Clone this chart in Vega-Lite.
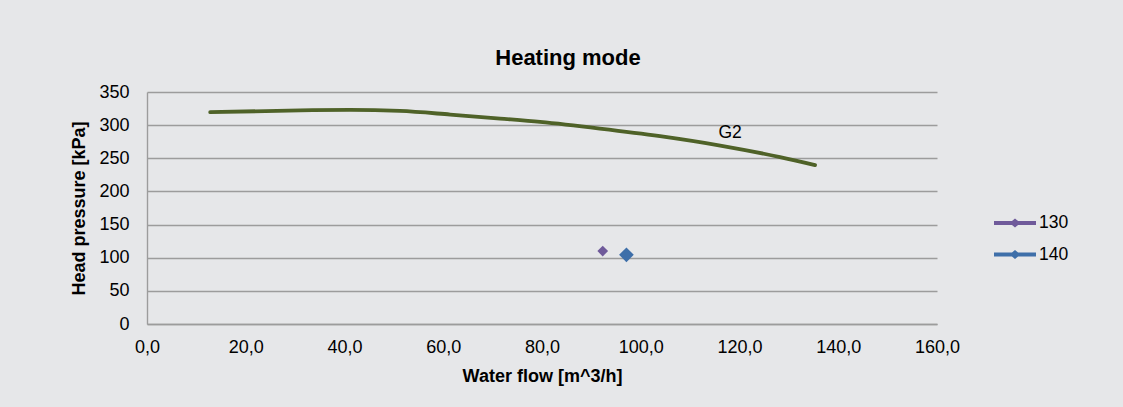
{
  "$schema": "https://vega.github.io/schema/vega-lite/v6.json",
  "width": 790,
  "height": 232,
  "autosize": {"type": "none"},
  "padding": {"left": 147, "top": 92, "right": 186, "bottom": 83},
  "background": "#e6e7e9",
  "title": {
    "text": "Heating mode",
    "font": "Liberation Sans",
    "fontSize": 22,
    "fontWeight": "bold",
    "color": "#000000",
    "anchor": "middle",
    "frame": "group",
    "dx": 26,
    "offset": 13
  },
  "datasets": {
    "curve": [
      {"flow": 12.8, "pressure": 319.5},
      {"flow": 31.0, "pressure": 322.4},
      {"flow": 41.1, "pressure": 323.0},
      {"flow": 51.2, "pressure": 321.4},
      {"flow": 61.4, "pressure": 316.0},
      {"flow": 71.5, "pressure": 309.9},
      {"flow": 79.6, "pressure": 304.8},
      {"flow": 91.7, "pressure": 294.9},
      {"flow": 103.9, "pressure": 283.4},
      {"flow": 116.1, "pressure": 269.2},
      {"flow": 128.2, "pressure": 251.8},
      {"flow": 135.3, "pressure": 239.8}
    ],
    "points": [
      {"series": "130", "flow": 92.3, "pressure": 110.0},
      {"series": "140", "flow": 97.1, "pressure": 104.4}
    ],
    "labels": [
      {"label": "G2", "flow": 118.1, "pressure": 280}
    ]
  },
  "encoding": {
    "x": {
      "field": "flow",
      "type": "quantitative",
      "scale": {"domain": [0, 160], "nice": false, "zero": false},
      "axis": {
        "title": "Water flow [m^3/h]",
        "values": [0, 20, 40, 60, 80, 100, 120, 140, 160],
        "labelExpr": "replace(format(datum.value, '.1f'), '.', ',')",
        "labelFlush": false,
        "labelPadding": 14,
        "titlePadding": 11,
        "grid": false
      }
    },
    "y": {
      "field": "pressure",
      "type": "quantitative",
      "scale": {"domain": [0, 350], "nice": false},
      "axis": {
        "title": "Head pressure [kPa]",
        "values": [0, 50, 100, 150, 200, 250, 300, 350],
        "format": "d",
        "labelFlush": false,
        "labelPadding": 18,
        "titlePadding": 10,
        "grid": true
      }
    }
  },
  "layer": [
    {
      "data": {"name": "curve"},
      "mark": {"type": "line", "color": "#4f6228", "strokeWidth": 3.8, "interpolate": "monotone", "strokeCap": "round"}
    },
    {
      "data": {"name": "labels"},
      "mark": {"type": "text", "font": "Liberation Sans", "fontSize": 17.5, "color": "#000000", "align": "center", "baseline": "alphabetic"},
      "encoding": {
        "text": {"field": "label"}
      }
    },
    {
      "data": {"name": "points"},
      "transform": [{"filter": "datum.series == '130'"}],
      "mark": {"type": "point", "shape": "diamond", "filled": true, "opacity": 1, "strokeWidth": 0, "size": 115},
      "encoding": {
        "color": {
          "field": "series",
          "type": "nominal",
          "scale": {"domain": ["130", "140"], "range": ["#6f5a9a", "#3e6fa9"]},
          "legend": {
            "title": null,
            "orient": "none",
            "legendX": 853,
            "legendY": 116,
            "padding": 0,
            "rowPadding": 7.5,
            "symbolType": "M-1.4,-0.13L1.4,-0.13L1.4,0.13L-1.4,0.13Z M-0.36,0L0,-0.3L0.36,0L0,0.3Z",
            "symbolSize": 900,
            "symbolStrokeWidth": 0,
            "symbolOpacity": 1,
            "labelOffset": 9,
            "labelFont": "Liberation Sans",
            "labelFontSize": 17.5,
            "labelColor": "#000000"
          }
        }
      }
    },
    {
      "data": {"name": "points"},
      "transform": [{"filter": "datum.series == '140'"}],
      "mark": {"type": "point", "shape": "diamond", "filled": true, "opacity": 1, "strokeWidth": 0, "size": 215},
      "encoding": {
        "color": {
          "field": "series",
          "type": "nominal",
          "scale": {"domain": ["130", "140"], "range": ["#6f5a9a", "#3e6fa9"]}
        }
      }
    }
  ],
  "config": {
    "view": {"stroke": null},
    "axis": {
      "domainColor": "#9c9c9c",
      "domainWidth": 1.4,
      "gridColor": "#9c9c9c",
      "gridWidth": 1.4,
      "ticks": false,
      "labelFont": "Liberation Sans",
      "labelFontSize": 18,
      "labelColor": "#000000",
      "titleFont": "Liberation Sans",
      "titleFontSize": 18,
      "titleFontWeight": "bold",
      "titleColor": "#000000"
    }
  }
}
